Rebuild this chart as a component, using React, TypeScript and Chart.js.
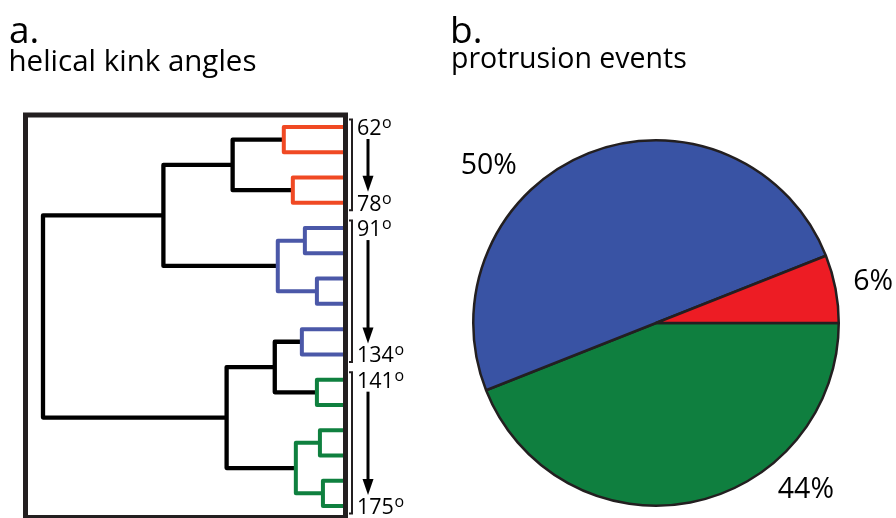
import React, { useEffect, useRef } from "react";
import { Chart, registerables } from "chart.js";

Chart.register(...registerables);

const FONT_FAMILY = '"Open Sans", "Noto Sans", sans-serif';

// ---------- panel a: dendrogram of helical kink angles ----------
const LEAF_COUNT = 16;
// linkage rows: the node created by row k has id LEAF_COUNT + k
const mergeLeft = [0, 2, 16, 4, 6, 19, 18, 8, 10, 23, 12, 14, 26, 25, 22];
const mergeRight = [1, 3, 17, 5, 7, 20, 21, 9, 11, 24, 13, 15, 27, 28, 29];
const mergeHeight = [0.2, 0.17, 0.37, 0.13, 0.09, 0.22, 0.6, 0.14, 0.09, 0.23, 0.08, 0.07, 0.16, 0.39, 1.0];
const mergeCluster = ["low", "low", "none", "mid", "mid", "mid", "none", "mid", "high", "none", "high", "high", "high", "none", "none"];

const clusterFirstLeaf = [0, 4, 10];
const clusterLastLeaf = [3, 9, 15];
const clusterFirstAngle = [62, 91, 141];
const clusterLastAngle = [78, 134, 175];

// ---------- panel b: protrusion events ----------
const pieCategories = ["141°–175°", "91°–134°", "62°–78°"];
const pieClusters = ["high", "mid", "low"];
const pieValues = [44, 50, 6];

const lineColors: Record<string, string> = {
  low: "#f04923",
  mid: "#4b58a8",
  high: "#0f803f",
  none: "#000000",
};
const pieColors: Record<string, string> = {
  low: "#ed1c24",
  mid: "#3953a4",
  high: "#0f7f3f",
};
const INK = "#231f20";

// label placement for the pie (angle clockwise from east, distance in radii)
const pieLabelAngle = [47.8, -136.4, -11.2];
const pieLabelDist = [1.221, 1.264, 1.211];

function buildDendrogramDatasets() {
  const ys: number[] = [];
  const hs: number[] = [];
  for (let i = 0; i < LEAF_COUNT; i++) {
    ys.push(i);
    hs.push(0);
  }
  return mergeLeft.map((l, k) => {
    const r = mergeRight[k];
    const h = mergeHeight[k];
    ys.push((ys[l] + ys[r]) / 2);
    hs.push(h);
    const c = mergeCluster[k];
    return {
      data: [
        { x: hs[l], y: ys[l] },
        { x: h, y: ys[l] },
        { x: h, y: ys[r] },
        { x: hs[r], y: ys[r] },
      ],
      borderColor: lineColors[c],
      backgroundColor: lineColors[c],
      borderWidth: c === "none" ? 4.3 : 4,
      showLine: true,
      pointRadius: 0,
      pointHoverRadius: 0,
      fill: false,
      tension: 0,
      clip: false,
      order: c === "none" ? 1 : 0,
      borderJoinStyle: "round",
      borderCapStyle: "butt",
    };
  });
}

const dendroOverlay = {
  id: "dendroOverlay",
  afterDraw(chart: any) {
    const ctx = chart.ctx as CanvasRenderingContext2D;
    const ys = chart.scales.y;
    const ca = chart.chartArea;
    ctx.save();
    // frame
    const fl = ca.left - 17.5;
    const ft = ys.getPixelForValue(0) - 12;
    const fr = ca.right + 1.5;
    const fb = chart.height - 0.5;
    ctx.strokeStyle = INK;
    ctx.lineWidth = 5;
    ctx.lineJoin = "miter";
    ctx.strokeRect(fl, ft, fr - fl, fb - ft);

    // brackets, labels, arrows
    const bx = ca.right + 8;
    const tx = ca.right + 13;
    const ax = ca.right + 24;
    for (let g = 0; g < clusterFirstLeaf.length; g++) {
      const y0 = ys.getPixelForValue(clusterFirstLeaf[g]);
      const y1 = ys.getPixelForValue(clusterLastLeaf[g]);
      ctx.strokeStyle = INK;
      ctx.lineWidth = 2;
      ctx.beginPath();
      ctx.moveTo(bx - 3, y0 - 7.5);
      ctx.lineTo(bx, y0 - 7.5);
      ctx.lineTo(bx, y1 + 7.5);
      ctx.lineTo(bx - 3, y1 + 7.5);
      ctx.stroke();

      const drawAngle = (val: number, yc: number) => {
        const base = yc + 8;
        ctx.fillStyle = "#000";
        ctx.textAlign = "left";
        ctx.textBaseline = "alphabetic";
        ctx.font = `21.5px ${FONT_FAMILY}`;
        const s = String(val);
        ctx.fillText(s, tx, base);
        const w = ctx.measureText(s).width;
        ctx.font = `16px ${FONT_FAMILY}`;
        ctx.fillText("o", tx + w + 0.5, base - 7);
      };
      drawAngle(clusterFirstAngle[g], y0);
      drawAngle(clusterLastAngle[g], y1);

      // arrow
      const a0 = y0 + 12;
      const a1 = y1 - 11;
      ctx.strokeStyle = "#000";
      ctx.lineWidth = 3;
      ctx.beginPath();
      ctx.moveTo(ax, a0);
      ctx.lineTo(ax, a1 - 12);
      ctx.stroke();
      ctx.fillStyle = "#000";
      ctx.beginPath();
      ctx.moveTo(ax - 5.5, a1 - 16);
      ctx.lineTo(ax + 5.5, a1 - 16);
      ctx.lineTo(ax, a1);
      ctx.closePath();
      ctx.fill();
    }

    // titles
    ctx.fillStyle = "#000";
    ctx.textAlign = "left";
    ctx.textBaseline = "alphabetic";
    ctx.font = `37px ${FONT_FAMILY}`;
    ctx.fillText("a.", 9, 43);
    ctx.font = `29.5px ${FONT_FAMILY}`;
    ctx.fillText("helical kink angles", 8.5, 71);
    ctx.restore();
  },
};

const pieOverlay = {
  id: "pieOverlay",
  afterDraw(chart: any) {
    const ctx = chart.ctx as CanvasRenderingContext2D;
    const arcs = chart.getDatasetMeta(0).data;
    if (!arcs.length) return;
    const cx = arcs[0].x;
    const cy = arcs[0].y;
    const r = arcs[0].outerRadius;
    ctx.save();
    ctx.fillStyle = "#000";
    ctx.textAlign = "center";
    ctx.textBaseline = "alphabetic";
    ctx.font = `28.5px ${FONT_FAMILY}`;
    pieValues.forEach((v, i) => {
      const a = (pieLabelAngle[i] * Math.PI) / 180;
      const x = cx + Math.cos(a) * r * pieLabelDist[i];
      const y = cy + Math.sin(a) * r * pieLabelDist[i];
      ctx.fillText(`${v}%`, x, y + 10);
    });
    ctx.textAlign = "left";
    ctx.font = `37px ${FONT_FAMILY}`;
    ctx.fillText("b.", 2, 43);
    ctx.font = `28.5px ${FONT_FAMILY}`;
    ctx.fillText("protrusion events", 3, 68);
    ctx.restore();
  },
};

export default function App() {
  const leftRef = useRef<HTMLCanvasElement>(null);
  const rightRef = useRef<HTMLCanvasElement>(null);

  useEffect(() => {
    const left = new Chart(leftRef.current as HTMLCanvasElement, {
      type: "scatter",
      data: { datasets: buildDendrogramDatasets() as any },
      options: {
        responsive: false,
        animation: false,
        events: [],
        layout: { padding: { left: 43, right: 104, top: 127, bottom: 12 } },
        scales: {
          x: { type: "linear", min: 0, max: 1, reverse: true, display: false },
          y: { type: "linear", min: 0, max: LEAF_COUNT - 1, reverse: true, display: false },
        },
        plugins: { legend: { display: false }, tooltip: { enabled: false } },
      },
      plugins: [dendroOverlay],
    });

    const right = new Chart(rightRef.current as HTMLCanvasElement, {
      type: "pie",
      data: {
        labels: pieCategories,
        datasets: [
          {
            data: pieValues,
            backgroundColor: pieClusters.map((c) => pieColors[c]),
            borderColor: INK,
            borderWidth: 2.5,
          },
        ],
      },
      options: {
        responsive: false,
        animation: false,
        events: [],
        rotation: 90,
        layout: { padding: { left: 24, right: 56, top: 139, bottom: 11 } },
        plugins: { legend: { display: false }, tooltip: { enabled: false } },
      },
      plugins: [pieOverlay],
    });

    return () => {
      left.destroy();
      right.destroy();
    };
  }, []);

  return (
    <div style={{ position: "absolute", left: 0, top: 0, width: 896, height: 518, background: "#fff", overflow: "hidden" }}>
      <canvas ref={leftRef} width={448} height={518} style={{ position: "absolute", left: 0, top: 0, display: "block" }} />
      <canvas ref={rightRef} width={448} height={518} style={{ position: "absolute", left: 448, top: 0, display: "block" }} />
    </div>
  );
}
